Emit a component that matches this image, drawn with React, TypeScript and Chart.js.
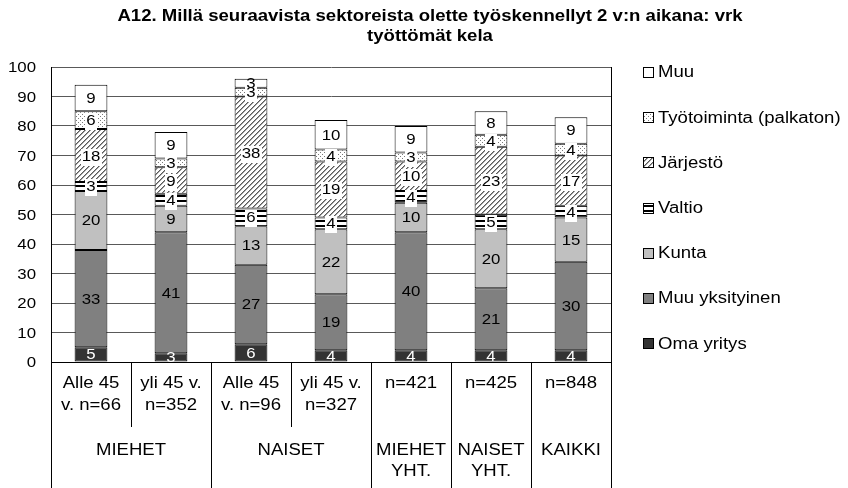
import React, { useEffect, useRef } from 'react';
import { Chart, registerables } from 'chart.js';

Chart.register(...registerables);

// ---------- data ----------
const categories: string[][] = [
  ['Alle 45', 'v. n=66'],
  ['yli 45 v.', 'n=352'],
  ['Alle 45', 'v. n=96'],
  ['yli 45 v.', 'n=327'],
  ['n=421'],
  ['n=425'],
  ['n=848'],
];
const groupLabels: string[][] = [['MIEHET'], ['NAISET'], ['MIEHET', 'YHT.'], ['NAISET', 'YHT.'], ['KAIKKI']];
const groupSpans: number[] = [2, 2, 1, 1, 1];

const seriesNames: string[] = [
  'Oma yritys',
  'Muu yksityinen',
  'Kunta',
  'Valtio',
  'Järjestö',
  'Työtoiminta (palkaton)',
  'Muu',
];
const omaYritys: number[] = [5, 3, 6, 4, 4, 4, 4];
const muuYksityinen: number[] = [33, 41, 27, 19, 40, 21, 30];
const kunta: number[] = [20, 9, 13, 22, 10, 20, 15];
const valtio: number[] = [3, 4, 6, 4, 4, 5, 4];
const jarjesto: number[] = [18, 9, 38, 19, 10, 23, 17];
const tyotoiminta: number[] = [6, 3, 3, 4, 3, 4, 4];
const muu: number[] = [9, 9, 3, 10, 9, 8, 9];

const titleLines: string[] = [
  'A12. Millä seuraavista sektoreista olette työskennellyt 2 v:n aikana: vrk',
  'työttömät kela',
];
const yMin = 0;
const yMax = 100;
const yStep = 10;

const FONT = "'Liberation Sans', Arial, sans-serif";
const SX = 1.16; // horizontal text stretch of the original picture

function makePattern(ctx: CanvasRenderingContext2D, w: number, h: number, draw: (p: CanvasRenderingContext2D) => void) {
  const c = document.createElement('canvas');
  c.width = w;
  c.height = h;
  const p = c.getContext('2d')!;
  p.fillStyle = '#ffffff';
  p.fillRect(0, 0, w, h);
  draw(p);
  return ctx.createPattern(c, 'repeat')!;
}

function sText(c: CanvasRenderingContext2D, txt: string, x: number, y: number, align: CanvasTextAlign) {
  c.save();
  c.translate(x, y);
  c.scale(SX, 1);
  c.textAlign = align;
  c.textBaseline = 'middle';
  c.fillText(txt, 0, 0);
  c.restore();
}

export default function App() {
  const ref = useRef<HTMLCanvasElement>(null);

  useEffect(() => {
    const canvas = ref.current!;
    const ctx = canvas.getContext('2d')!;

    const stripes = makePattern(ctx, 4, 5, (p) => {
      p.fillStyle = '#000000';
      p.fillRect(0, 0, 4, 2);
    });
    const hatch = makePattern(ctx, 5, 5, (p) => {
      p.fillStyle = '#5a5a5a';
      for (let x = 0; x < 5; x++) {
        p.fillRect(x, 4 - x, 1, 1);
      }
      p.fillStyle = '#a0a0a0';
      for (let x = 0; x < 5; x++) {
        p.fillRect(x, (5 - x) % 5, 1, 1);
      }
    });
    const dots = makePattern(ctx, 4, 4, (p) => {
      p.fillStyle = '#7a7a7a';
      p.fillRect(0, 0, 1, 1);
      p.fillRect(2, 2, 1, 1);
    });

    const fills: (string | CanvasPattern)[] = ['#333333', '#808080', '#c0c0c0', stripes, hatch, dots, '#ffffff'];
    const values = [omaYritys, muuYksityinen, kunta, valtio, jarjesto, tyotoiminta, muu];
    const labelBg = [false, false, false, true, true, true, false];

    const labelPlugin = {
      id: 'segLabels',
      afterDatasetsDraw(chart: any) {
        const c = chart.ctx;
        c.save();
        c.font = `14.5px ${FONT}`;
        chart.data.datasets.forEach((ds: any, di: number) => {
          const meta = chart.getDatasetMeta(di);
          meta.data.forEach((el: any, i: number) => {
            const v = ds.data[i];
            const txt = String(Math.round(v));
            const cy = (el.y + el.base) / 2;
            if (labelBg[di]) {
              const w = c.measureText(txt).width * SX;
              c.fillStyle = '#ffffff';
              c.fillRect(Math.round(el.x - w / 2 - 1), Math.round(cy - 7), Math.ceil(w + 2), 17);
            }
            c.fillStyle = di === 0 ? '#ffffff' : '#000000';
            sText(c, txt, el.x, cy + 1, 'center');
          });
        });
        c.restore();
      },
    };

    const axisPlugin = {
      id: 'tableAxis',
      afterDraw(chart: any) {
        const c = chart.ctx;
        const xs = chart.scales.x;
        const ys = chart.scales.y;
        const area = chart.chartArea;
        const bottom = chart.height;
        const n = categories.length;
        const px = (i: number) => xs.getPixelForValue(i);
        const half = (px(1) - px(0)) / 2;
        const edge = (i: number) => (i <= 0 ? px(0) - half : i >= n ? px(n - 1) + half : (px(i - 1) + px(i)) / 2);
        const al = (v: number) => Math.round(v) + 0.5;
        c.save();
        c.strokeStyle = '#000000';
        c.lineWidth = 1;
        c.beginPath();
        c.moveTo(al(area.right), area.top);
        c.lineTo(al(area.right), bottom);
        c.stroke();
        let idx = 0;
        const groupStarts: number[] = [];
        groupSpans.forEach((s) => {
          groupStarts.push(idx);
          idx += s;
        });
        c.beginPath();
        c.moveTo(al(area.left), area.bottom);
        c.lineTo(al(area.left), bottom);
        groupStarts.forEach((gs, g) => {
          const e = edge(gs + groupSpans[g]);
          c.moveTo(al(e), area.bottom);
          c.lineTo(al(e), bottom);
          for (let k = 1; k < groupSpans[g]; k++) {
            const d = edge(gs + k);
            c.moveTo(al(d), area.bottom);
            c.lineTo(al(d), area.bottom + 65);
          }
        });
        c.stroke();
        c.fillStyle = '#000000';
        // x labels
        c.font = `16px ${FONT}`;
        categories.forEach((lines, i) => {
          lines.forEach((t, li) => sText(c, t, px(i), area.bottom + 22 + li * 22, 'center'));
        });
        groupStarts.forEach((gs, g) => {
          const cx = (edge(gs) + edge(gs + groupSpans[g])) / 2;
          groupLabels[g].forEach((t, li) => sText(c, t, cx, area.bottom + 89 + li * 21, 'center'));
        });
        // y tick labels
        c.font = `14.5px ${FONT}`;
        ys.ticks.forEach((t: any) => {
          sText(c, String(t.value), area.left - 15, ys.getPixelForValue(t.value) + 1, 'right');
        });
        // title
        c.font = `bold 16px ${FONT}`;
        titleLines.forEach((t, li) => sText(c, t, 430, 17 + li * 20, 'center'));
        c.restore();
      },
    };

    const legendPlugin = {
      id: 'sideLegend',
      afterDraw(chart: any) {
        const c = chart.ctx;
        const area = chart.chartArea;
        c.save();
        c.font = `16px ${FONT}`;
        const order = [6, 5, 4, 3, 2, 1, 0];
        order.forEach((di, k) => {
          const ds = chart.data.datasets[di];
          const cy = area.top + 5 + k * 45.2;
          const bx = area.right + 32;
          const by = Math.round(cy - 5);
          c.fillStyle = ds.backgroundColor;
          c.fillRect(bx, by, 11, 11);
          c.strokeStyle = '#000000';
          c.lineWidth = 1;
          c.strokeRect(bx + 0.5, by + 0.5, 10, 10);
          c.fillStyle = '#000000';
          sText(c, ds.label, bx + 15, cy + 1, 'left');
        });
        c.restore();
      },
    };

    const chart = new Chart(ctx, {
      type: 'bar',
      data: {
        labels: categories.map((l) => l.join(' ')),
        datasets: seriesNames.map((name, i) => ({
          label: name,
          data: values[i],
          backgroundColor: fills[i] as any,
          borderColor: '#000000',
          borderWidth: 1,
          borderSkipped: false,
          barPercentage: 0.41,
          categoryPercentage: 1,
        })),
      },
      options: {
        responsive: false,
        animation: false,
        devicePixelRatio: 1,
        layout: { padding: { left: 0, right: 237, top: 67, bottom: 0 } },
        plugins: {
          legend: { display: false },
          tooltip: { enabled: false },
          title: { display: false },
        },
        scales: {
          x: {
            stacked: true,
            grid: { display: false },
            border: { display: true, color: '#000000', width: 1 },
            ticks: { display: false },
            afterFit: (s: any) => {
              s.height = 126;
            },
          },
          y: {
            stacked: true,
            min: yMin,
            max: yMax,
            grid: { color: '#595959', drawTicks: false, tickLength: 0 },
            border: { display: true, color: '#000000', width: 1 },
            ticks: { stepSize: yStep, display: false },
            afterFit: (s: any) => {
              s.width = 51;
            },
          },
        },
      },
      plugins: [labelPlugin, axisPlugin, legendPlugin],
    } as any);

    return () => chart.destroy();
  }, []);

  return (
    <div style={{ position: 'fixed', left: 0, top: 0, width: 848, height: 488, background: '#ffffff' }}>
      <canvas ref={ref} width={848} height={488} style={{ display: 'block', width: 848, height: 488 }} />
    </div>
  );
}
